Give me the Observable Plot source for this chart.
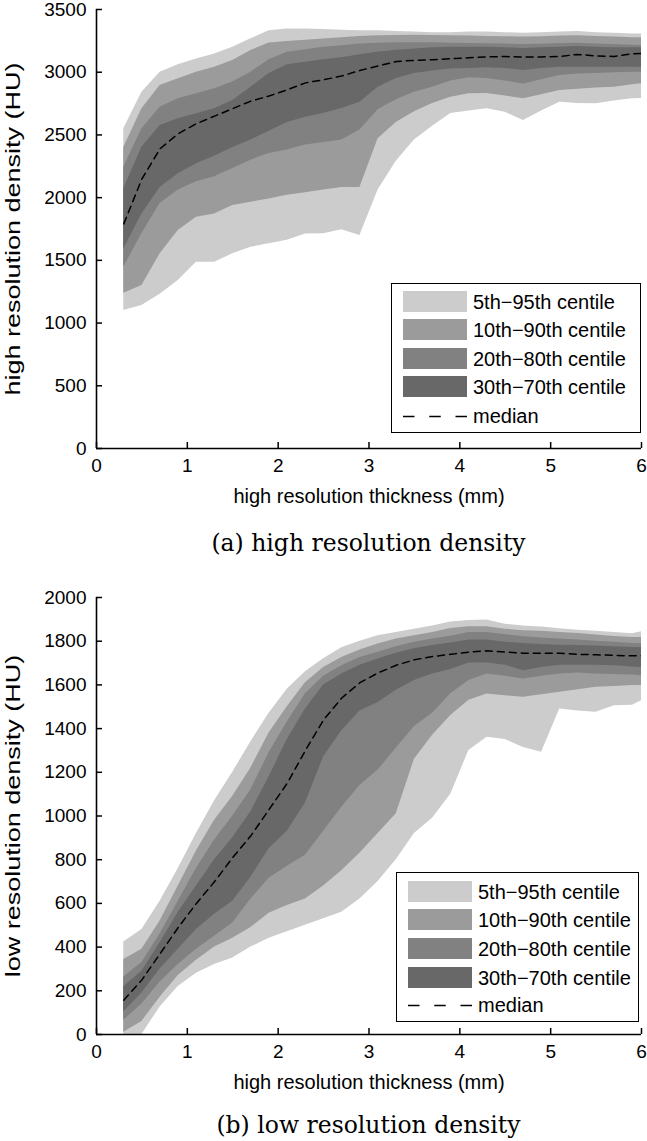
<!DOCTYPE html>
<html>
<head>
<meta charset="utf-8">
<script src="https://cdn.jsdelivr.net/npm/d3@7"></script>
<script src="https://cdn.jsdelivr.net/npm/@observablehq/plot@0.6"></script>
<style>
  html, body { margin: 0; padding: 0; background: #fff; }
  #wrap { position: relative; width: 647px; height: 1141px; overflow: hidden; font-family: "Liberation Sans", Arial, sans-serif; }
  .chart { position: absolute; left: 0; }
  .caption { position: absolute; left: 96px; width: 545px; text-align: center; font-family: "DejaVu Serif", "Liberation Serif", serif; font-size: 23.5px; color: #000; line-height: 1; }
  .legend { position: absolute; border: 1.5px solid #000; background: #fff; box-sizing: border-box; }
  .legend .row { position: absolute; left: 0; height: 21px; width: 100%; }
  .legend .patch { position: absolute; left: 11px; top: 0; width: 64px; height: 21px; }
  .legend .lbl { position: absolute; left: 81px; top: 50%; transform: translateY(-50%); font-size: 20px; white-space: nowrap; color: #000; line-height: 1; }
  .legend svg { position: absolute; left: 11px; top: 0; }
</style>
</head>
<body>
<div id="wrap"></div>
<script>
// ---- data ----
const thickness = [0.3,0.5,0.7,0.9,1.1,1.3,1.5,1.7,1.9,2.1,2.3,2.5,2.7,2.9,3.1,3.3,3.5,3.7,3.9,4.1,4.3,4.5,4.7,4.9,5.1,5.3,5.5,5.7,5.9,6.0];

// (a) high resolution density (HU)
const hiP95 = [2550,2840,3000,3060,3106,3146,3200,3266,3330,3345,3345,3340,3335,3330,3330,3325,3320,3315,3315,3320,3320,3315,3310,3315,3320,3325,3315,3310,3305,3305];
const hiP90 = [2400,2708,2894,2947,3000,3040,3093,3173,3232,3245,3255,3265,3275,3285,3290,3293,3295,3293,3290,3288,3285,3283,3280,3283,3288,3290,3285,3280,3275,3275];
const hiP80 = [2243,2549,2721,2788,2828,2868,2921,3000,3100,3160,3180,3200,3210,3225,3230,3235,3235,3235,3230,3228,3226,3224,3220,3222,3228,3230,3225,3220,3215,3213];
const hiP70 = [2070,2402,2575,2628,2668,2708,2774,2881,2990,3060,3080,3100,3115,3140,3160,3175,3185,3195,3200,3200,3200,3195,3190,3195,3200,3205,3200,3195,3195,3195];
const hiP50 = [1791,2150,2390,2510,2590,2650,2710,2770,2810,2860,2915,2940,2970,3014,3050,3085,3095,3100,3107,3115,3122,3125,3120,3122,3126,3142,3130,3126,3147,3150];
const hiP30 = [1590,1870,2080,2190,2270,2330,2400,2460,2530,2600,2640,2670,2710,2760,2880,2950,2990,3010,3025,3030,3035,3030,3014,3030,3040,3040,3040,3040,3040,3040];
const hiP20 = [1445,1714,1953,2060,2126,2166,2233,2299,2352,2380,2420,2440,2460,2540,2700,2780,2840,2880,2930,2955,2950,2930,2907,2940,2974,2985,2990,2995,3000,3000];
const hiP10 = [1238,1300,1552,1738,1844,1870,1937,1963,1990,2020,2040,2060,2080,2080,2470,2600,2685,2750,2800,2828,2830,2810,2788,2820,2854,2865,2875,2881,2900,2908];
const hiP5  = [1100,1140,1230,1340,1485,1485,1552,1605,1632,1660,1710,1712,1745,1698,2060,2290,2460,2570,2670,2690,2708,2680,2615,2690,2761,2750,2748,2770,2788,2790];

// (b) low resolution density (HU)
const loP95 = [423,480,610,760,920,1070,1200,1340,1470,1580,1660,1720,1770,1800,1825,1840,1855,1870,1888,1895,1897,1878,1870,1865,1857,1850,1845,1840,1834,1843];
const loP90 = [343,390,520,680,840,980,1090,1220,1380,1500,1610,1680,1725,1760,1787,1810,1825,1840,1858,1866,1866,1855,1848,1845,1840,1835,1828,1822,1817,1817];
const loP80 = [263,330,460,610,760,890,1000,1120,1290,1430,1560,1640,1688,1725,1750,1775,1795,1810,1823,1840,1840,1830,1820,1815,1810,1805,1800,1795,1790,1788];
const loP70 = [218,290,420,560,680,800,900,1020,1180,1350,1490,1600,1650,1690,1718,1745,1765,1780,1792,1805,1805,1795,1790,1785,1782,1780,1778,1775,1771,1771];
const loP50 = [157,250,370,490,600,700,810,910,1030,1150,1300,1440,1540,1610,1655,1690,1715,1730,1740,1750,1756,1750,1745,1745,1745,1740,1738,1735,1733,1733];
const loP30 = [103,190,300,390,480,550,610,720,850,930,1060,1270,1390,1480,1520,1575,1620,1650,1670,1700,1700,1690,1665,1680,1690,1690,1690,1688,1682,1680];
const loP20 = [65,140,240,320,390,450,510,620,715,770,820,930,1040,1140,1210,1310,1410,1470,1560,1620,1650,1640,1627,1640,1650,1655,1650,1648,1645,1642];
const loP10 = [10,60,170,270,340,400,440,490,555,590,620,680,750,830,920,1010,1260,1370,1460,1530,1558,1550,1543,1555,1566,1578,1589,1593,1597,1597];
const loP5  = [0,0,126,220,280,320,350,400,440,470,500,530,560,620,700,800,920,990,1100,1300,1360,1350,1314,1292,1490,1480,1475,1505,1507,1528];

const xTicks = [0,1,2,3,4,5,6];
const hiYTicks = [0,500,1000,1500,2000,2500,3000,3500];
const loYTicks = [0,200,400,600,800,1000,1200,1400,1600,1800,2000];

const bands = [
  {label: "5th\u221295th centile", lo: "p5", hi: "p95", fill: "#cccccc"},
  {label: "10th\u221290th centile", lo: "p10", hi: "p90", fill: "#9b9b9b"},
  {label: "20th\u221280th centile", lo: "p20", hi: "p80", fill: "#818181"},
  {label: "30th\u221270th centile", lo: "p30", hi: "p70", fill: "#686868"}
];
const medianLabel = "median";
const xTitle = "high resolution thickness (mm)";

function table(p5,p10,p20,p30,p50,p70,p80,p90,p95) {
  return thickness.map((x, i) => ({x, p5: p5[i], p10: p10[i], p20: p20[i], p30: p30[i], p50: p50[i], p70: p70[i], p80: p80[i], p90: p90[i], p95: p95[i]}));
}

function makeChart({data, yMax, yTicks, yTitle, height, marginTop, marginBottom}) {
  const svg = Plot.plot({
    width: 647, height, marginLeft: 96, marginRight: 6, marginTop, marginBottom,
    style: {fontFamily: "'Liberation Sans', Arial, sans-serif", fontSize: "19px", color: "#000", background: "white", overflow: "visible"},
    x: {domain: [0, 6]},
    y: {domain: [0, yMax]},
    marks: [
      ...bands.map(b => Plot.areaY(data, {x: "x", y1: b.lo, y2: b.hi, fill: b.fill, clip: true})),
      Plot.line(data, {x: "x", y: "p50", stroke: "black", strokeWidth: 1.5, strokeDasharray: "7,5", clip: true}),
      Plot.ruleY([0], {stroke: "black", strokeWidth: 1.6}),
      Plot.ruleX([0], {stroke: "black", strokeWidth: 1.6}),
      Plot.axisX(xTicks, {tickSize: -6, tickPadding: 16, strokeWidth: 1.5, label: null, tickFormat: d => String(d), fontSize: 19}),
      Plot.axisY(yTicks, {tickSize: -6, tickPadding: 16, strokeWidth: 1.5, label: null, tickFormat: d => String(d), fontSize: 19}),
      Plot.text([xTitle], {frameAnchor: "bottom", dy: 54, fontSize: 20, text: d => d}),
      Plot.text([yTitle], {frameAnchor: "left", dx: -83, rotate: -90, textAnchor: "middle", fontSize: 20, text: d => d})
    ]
  });
  // the reference's lettering is drawn taller than it is wide; stretch the rotated title along its length
  svg.querySelectorAll("text").forEach(t => {
    if (t.textContent === yTitle && t.getAttribute("transform")) {
      t.setAttribute("transform", t.getAttribute("transform") + " scale(1.35,1)");
    }
  });
  return svg;
}

function makeLegend(left, top, width, height, rowTops, lineTop) {
  const lg = document.createElement("div");
  lg.className = "legend";
  Object.assign(lg.style, {left: left + "px", top: top + "px", width: width + "px", height: height + "px"});
  bands.forEach((b, i) => {
    const row = document.createElement("div");
    row.className = "row";
    row.style.top = rowTops[i] + "px";
    row.innerHTML = `<div class="patch" style="background:${b.fill}"></div><div class="lbl">${b.label}</div>`;
    lg.appendChild(row);
  });
  const row = document.createElement("div");
  row.className = "row";
  row.style.top = (lineTop - 10.5) + "px";
  row.innerHTML = `<svg width="64" height="21"><line x1="0" x2="64" y1="10.5" y2="10.5" stroke="black" stroke-width="1.5" stroke-dasharray="11.5,14.75"/></svg><div class="lbl">${medianLabel}</div>`;
  lg.appendChild(row);
  return lg;
}

const wrap = document.getElementById("wrap");

const c1 = makeChart({data: table(hiP5,hiP10,hiP20,hiP30,hiP50,hiP70,hiP80,hiP90,hiP95), yMax: 3500, yTicks: hiYTicks, yTitle: "high resolution density (HU)", height: 520, marginTop: 9, marginBottom: 72});
c1.classList.add("chart"); c1.style.top = "0px";
wrap.appendChild(c1);

const cap1 = document.createElement("div");
cap1.className = "caption"; cap1.style.top = "532px"; cap1.textContent = "(a) high resolution density";
wrap.appendChild(cap1);

wrap.appendChild(makeLegend(391, 283, 250, 150, [7, 35, 64, 92], 132));

const c2 = makeChart({data: table(loP5,loP10,loP20,loP30,loP50,loP70,loP80,loP90,loP95), yMax: 2000, yTicks: loYTicks, yTitle: "low resolution density (HU)", height: 520, marginTop: 17, marginBottom: 66});
c2.classList.add("chart"); c2.style.top = "580px";
wrap.appendChild(c2);

const cap2 = document.createElement("div");
cap2.className = "caption"; cap2.style.top = "1114px"; cap2.textContent = "(b) low resolution density";
wrap.appendChild(cap2);

wrap.appendChild(makeLegend(396, 872, 243, 150, [8, 36, 65, 94], 132));
</script>
</body>
</html>
